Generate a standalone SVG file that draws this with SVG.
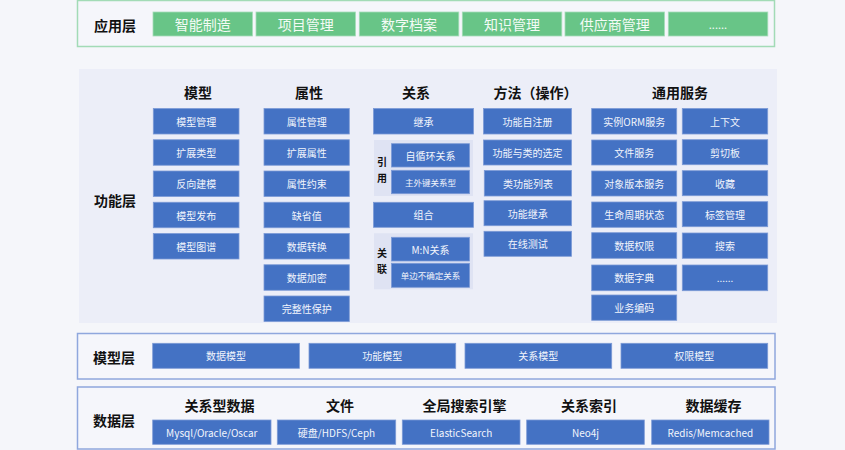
<svg xmlns="http://www.w3.org/2000/svg" width="845" height="450" viewBox="0 0 845 450">
<style>
text{font-family:"Noto Sans CJK SC","Liberation Sans",sans-serif;dominant-baseline:central;text-anchor:middle}
.b{fill:#4472C4;stroke:#7C9AD6;stroke-width:0.8}
.g{fill:#68C587;stroke:#A6DDB8;stroke-width:0.8}
.t{fill:#F2F5FC;font-size:10px}
.ts{fill:#F2F5FC;font-size:8.5px}
.tg{fill:#F4FBF6;font-size:14px}
.h{fill:#111;font-size:14px;font-weight:bold}
.l{fill:#111;font-size:14px;font-weight:bold}
.v{fill:#111;font-size:10px;font-weight:bold}
.grp{fill:#DFE3F3}
</style>
<rect width="845" height="450" fill="#F5F6FA"/>
<!-- application layer -->
<g id="app-layer">
<rect x="77.5" y="0.5" width="697" height="46" fill="#F5F6FB" stroke="#A2DBB6" stroke-width="1.5"/>
<text class="l" x="115" y="25">应用层</text>
</g>
<g id="app-1"><rect class="g" x="153" y="12" width="99.5" height="24"/><text class="tg" x="202.75" y="24">智能制造</text></g>
<g id="app-2"><rect class="g" x="256" y="12" width="99.5" height="24"/><text class="tg" x="305.75" y="24">项目管理</text></g>
<g id="app-3"><rect class="g" x="359.3" y="12" width="99.5" height="24"/><text class="tg" x="409" y="24">数字档案</text></g>
<g id="app-4"><rect class="g" x="462.3" y="12" width="99.5" height="24"/><text class="tg" x="512" y="24">知识管理</text></g>
<g id="app-5"><rect class="g" x="565" y="12" width="99.5" height="24"/><text class="tg" x="614.75" y="24">供应商管理</text></g>
<g id="app-6"><rect class="g" x="668.3" y="12" width="99.5" height="24"/><text class="tg" x="718" y="24" style="font-size:11px">......</text></g>

<!-- function layer -->
<g id="func-layer">
<rect x="79" y="69" width="698" height="254" fill="#ECEEF8"/>
<text class="l" x="115" y="200">功能层</text>
</g>
<g id="col-model">
<text class="h" x="198" y="92">模型</text>
<rect class="b" x="153.3" y="108.5" width="85.7" height="25.5"/><text class="t" x="196.2" y="121.3">模型管理</text>
<rect class="b" x="153.3" y="139.75" width="85.7" height="25.5"/><text class="t" x="196.2" y="152.5">扩展类型</text>
<rect class="b" x="153.3" y="171" width="85.7" height="25.5"/><text class="t" x="196.2" y="183.8">反向建模</text>
<rect class="b" x="153.3" y="202.25" width="85.7" height="25.5"/><text class="t" x="196.2" y="215">模型发布</text>
<rect class="b" x="153.3" y="233.5" width="85.7" height="25.5"/><text class="t" x="196.2" y="246.3">模型图谱</text>
</g>
<g id="col-attr">
<text class="h" x="309" y="92">属性</text>
<rect class="b" x="264" y="108.5" width="85.3" height="25.5"/><text class="t" x="306.7" y="121.3">属性管理</text>
<rect class="b" x="264" y="139.75" width="85.3" height="25.5"/><text class="t" x="306.7" y="152.5">扩展属性</text>
<rect class="b" x="264" y="171" width="85.3" height="25.5"/><text class="t" x="306.7" y="183.8">属性约束</text>
<rect class="b" x="264" y="202.25" width="85.3" height="25.5"/><text class="t" x="306.7" y="215">缺省值</text>
<rect class="b" x="264" y="233.5" width="85.3" height="25.5"/><text class="t" x="306.7" y="246.3">数据转换</text>
<rect class="b" x="264" y="264.75" width="85.3" height="25.5"/><text class="t" x="306.7" y="277.5">数据加密</text>
<rect class="b" x="264" y="296" width="85.3" height="25.5"/><text class="t" x="306.7" y="308.8">完整性保护</text>
</g>
<g id="col-rel">
<text class="h" x="416" y="92">关系</text>
<rect class="b" x="373.5" y="108.5" width="100" height="25.5"/><text class="t" x="423.5" y="121.3">继承</text>
<rect class="grp" x="374" y="140" width="99" height="56"/>
<text class="v" x="382" y="161.5">引</text><text class="v" x="382" y="177.5">用</text>
<rect class="b" x="391.5" y="143.7" width="78" height="23.3"/><text class="t" x="430.5" y="155.4">自循环关系</text>
<rect class="b" x="391.5" y="170.3" width="78" height="23.4"/><text class="ts" x="430.5" y="182">主外键关系型</text>
<rect class="b" x="373.5" y="202.3" width="100" height="25"/><text class="t" x="423.5" y="214.8">组合</text>
<rect class="grp" x="374" y="233.3" width="99" height="56"/>
<text class="v" x="382" y="252">关</text><text class="v" x="382" y="268">联</text>
<rect class="b" x="391.5" y="237.3" width="78" height="23.7"/><text class="t" x="430.5" y="249.2">M:N关系</text>
<rect class="b" x="391.5" y="263.3" width="78" height="24"/><text class="ts" x="430.5" y="275.3">单边不确定关系</text>
</g>
<g id="col-method">
<text class="h" x="535.5" y="92">方法（操作）</text>
<rect class="b" x="483.5" y="108.5" width="88" height="25.5"/><text class="t" x="527.5" y="121.3">功能自注册</text>
<rect class="b" x="483.5" y="140" width="88" height="25"/><text class="t" x="527.5" y="152.5">功能与类的选定</text>
<rect class="b" x="484.3" y="170.5" width="87.2" height="25.5"/><text class="t" x="527.9" y="183.3">类功能列表</text>
<rect class="b" x="484" y="200.7" width="87.5" height="25"/><text class="t" x="527.7" y="213.2">功能继承</text>
<rect class="b" x="484" y="231.3" width="87.5" height="25"/><text class="t" x="527.7" y="243.8">在线测试</text>
</g>
<g id="col-service">
<text class="h" x="680" y="92">通用服务</text>
<rect class="b" x="591.7" y="108.5" width="85" height="25.5"/><text class="t" x="634.2" y="121.3">实例ORM服务</text>
<rect class="b" x="591.7" y="140" width="85" height="25"/><text class="t" x="634.2" y="152.5">文件服务</text>
<rect class="b" x="591.7" y="171" width="85" height="25"/><text class="t" x="634.2" y="183.5">对象版本服务</text>
<rect class="b" x="591.7" y="202" width="85" height="25.3"/><text class="t" x="634.2" y="214.7">生命周期状态</text>
<rect class="b" x="591.7" y="232.7" width="85" height="25.6"/><text class="t" x="634.2" y="245.5">数据权限</text>
<rect class="b" x="591.7" y="265" width="85" height="25.7"/><text class="t" x="634.2" y="277.8">数据字典</text>
<rect class="b" x="591.7" y="295" width="85" height="25.3"/><text class="t" x="634.2" y="307.7">业务编码</text>
<rect class="b" x="682.3" y="108.5" width="85.4" height="25.5"/><text class="t" x="725" y="121.3">上下文</text>
<rect class="b" x="682.3" y="139.7" width="85.4" height="25"/><text class="t" x="725" y="152.2">剪切板</text>
<rect class="b" x="682.3" y="170.7" width="85.4" height="25"/><text class="t" x="725" y="183.2">收藏</text>
<rect class="b" x="682.3" y="201.7" width="85.4" height="25"/><text class="t" x="725" y="214.2">标签管理</text>
<rect class="b" x="682.3" y="233" width="85.4" height="25.3"/><text class="t" x="725" y="245.7">搜索</text>
<rect class="b" x="682.3" y="265" width="85.4" height="25.7"/><text class="t" x="725" y="277.8">......</text>
</g>

<!-- model layer -->
<g id="model-layer">
<rect x="77.5" y="333.5" width="697.5" height="45.5" fill="#F5F6FB" stroke="#8FA7DD" stroke-width="1.5"/>
<text class="l" x="114" y="357">模型层</text>
</g>
<g id="m-1"><rect class="b" x="152.7" y="343.3" width="146.7" height="25"/><text class="t" x="226" y="355.8">数据模型</text></g>
<g id="m-2"><rect class="b" x="309" y="343.3" width="146.7" height="25"/><text class="t" x="382.3" y="355.8">功能模型</text></g>
<g id="m-3"><rect class="b" x="465" y="343.3" width="146.7" height="25"/><text class="t" x="538.3" y="355.8">关系模型</text></g>
<g id="m-4"><rect class="b" x="621" y="343.3" width="146.7" height="25"/><text class="t" x="694.3" y="355.8">权限模型</text></g>

<!-- data layer -->
<g id="data-layer">
<rect x="77.5" y="387" width="697.5" height="62" fill="#F5F6FB" stroke="#8FA7DD" stroke-width="1.5"/>
<text class="l" x="114" y="420">数据层</text>
</g>
<g id="d-1"><text class="h" x="219.5" y="405">关系型数据</text><rect class="b" x="152.7" y="420" width="118.3" height="24.3"/><text class="t" x="211.8" y="432.2">Mysql/Oracle/Oscar</text></g>
<g id="d-2"><text class="h" x="340" y="405">文件</text><rect class="b" x="277.3" y="420" width="118.4" height="24.3"/><text class="t" x="336.5" y="432.2">硬盘/HDFS/Ceph</text></g>
<g id="d-3"><text class="h" x="464.5" y="405">全局搜索引擎</text><rect class="b" x="402.3" y="420" width="117.7" height="24.3"/><text class="t" x="461.2" y="432.2">ElasticSearch</text></g>
<g id="d-4"><text class="h" x="589" y="405">关系索引</text><rect class="b" x="526.7" y="420" width="117.6" height="24.3"/><text class="t" x="585.5" y="432.2">Neo4j</text></g>
<g id="d-5"><text class="h" x="713.5" y="405">数据缓存</text><rect class="b" x="651.7" y="420" width="117.3" height="24.3"/><text class="t" x="710.3" y="432.2">Redis/Memcached</text></g>
<g id="connectors"/>
</svg>
